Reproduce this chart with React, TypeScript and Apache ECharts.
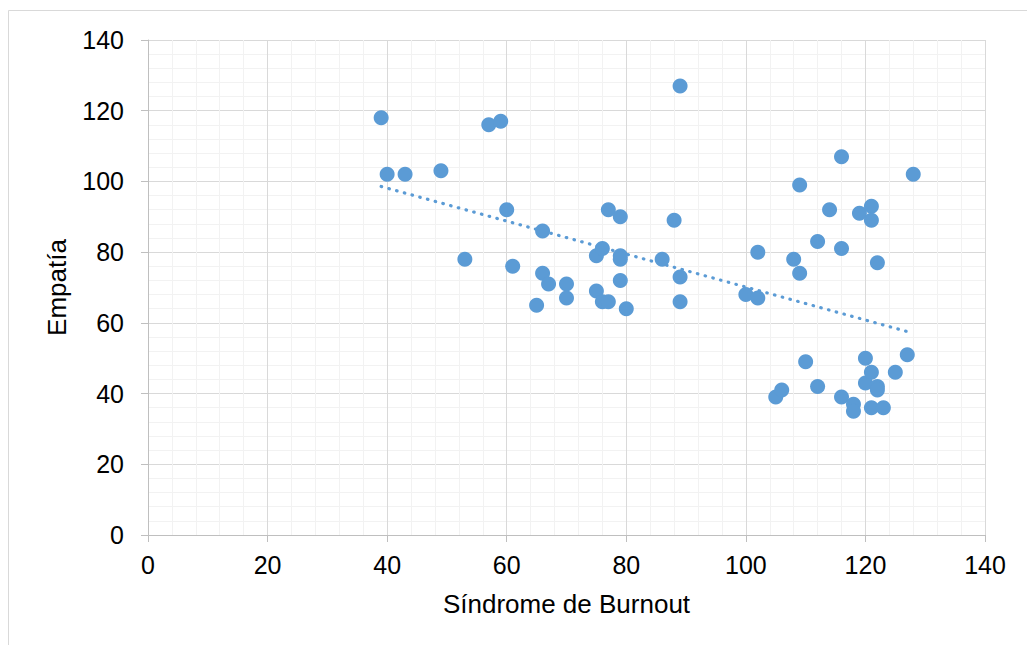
import React, { useEffect, useRef } from "react";
import * as echarts from "echarts";

const burnout: number[] = [39, 40, 43, 49, 53, 57, 59, 60, 61, 65, 66, 66, 67, 70, 70, 75, 76, 75, 76, 77, 77, 79, 79, 79, 79, 80, 86, 88, 89, 89, 89, 100, 102, 102, 105, 106, 108, 109, 109, 110, 112, 112, 114, 116, 116, 116, 118, 118, 119, 120, 120, 121, 121, 121, 121, 122, 122, 122, 123, 125, 127, 128];
const empatia: number[] = [118, 102, 102, 103, 78, 116, 117, 92, 76, 65, 86, 74, 71, 71, 67, 79, 81, 69, 66, 66, 92, 90, 79, 78, 72, 64, 78, 89, 127, 73, 66, 68, 80, 67, 39, 41, 78, 99, 74, 49, 83, 42, 92, 107, 81, 39, 37, 35, 91, 50, 43, 93, 89, 46, 36, 77, 42, 41, 36, 46, 51, 102];

const xTitle = "Síndrome de Burnout";
const yTitle = "Empatía";

function trend(xs: number[], ys: number[]): number[][] {
  const n = xs.length;
  let sx = 0, sy = 0, sxx = 0, sxy = 0;
  for (let i = 0; i < n; i++) {
    sx += xs[i]; sy += ys[i]; sxx += xs[i] * xs[i]; sxy += xs[i] * ys[i];
  }
  const b = (n * sxy - sx * sy) / (n * sxx - sx * sx);
  const a = (sy - b * sx) / n;
  const x0 = Math.min(...xs), x1 = Math.max(...xs);
  return [[x0, a + b * x0], [x1, a + b * x1]];
}

export default function App() {
  const ref = useRef<HTMLDivElement>(null);
  useEffect(() => {
    if (!ref.current) return;
    const chart = echarts.init(ref.current, null, { renderer: "svg" });
    const font = "Arial, 'Liberation Sans', sans-serif";
    const axisCommon = {
      type: "value",
      min: 0,
      max: 140,
      interval: 20,
      axisLine: { show: true, lineStyle: { color: "#bfbfbf", width: 1 } },
      axisTick: { show: true, length: 7, inside: false, lineStyle: { color: "#bfbfbf" } },
      minorTick: { show: false, splitNumber: 5 },
      splitLine: { show: true, lineStyle: { color: "#d9d9d9", width: 1 } },
      minorSplitLine: { show: true, lineStyle: { color: "#f2f2f2", width: 1 } },
      nameLocation: "middle",
      nameTextStyle: { fontSize: 26, color: "#000", fontFamily: font },
    };
    chart.setOption({
      animation: false,
      backgroundColor: "#ffffff",
      graphic: [
        {
          type: "rect",
          shape: { x: 8.5, y: 10.5, width: 1040, height: 660 },
          style: { fill: "none", stroke: "#d9d9d9", lineWidth: 1 },
          silent: true,
          z: -10,
        },
      ],
      grid: { left: 148, top: 40, right: 42, bottom: 110, containLabel: false },
      xAxis: {
        ...axisCommon,
        name: xTitle,
        nameGap: 56,
        axisLabel: { fontSize: 25, color: "#000", fontFamily: font, margin: 17 },
      },
      yAxis: {
        ...axisCommon,
        name: yTitle,
        nameGap: 78,
        axisLabel: { fontSize: 25, color: "#000", fontFamily: font, margin: 24 },
      },
      series: [
        {
          type: "scatter",
          data: burnout.map((x, i) => [x, empatia[i]]),
          symbol: "circle",
          symbolSize: 15,
          itemStyle: { color: "#5b9bd5", opacity: 1 },
          z: 3,
        },
        {
          type: "line",
          data: trend(burnout, empatia),
          showSymbol: false,
          symbol: "none",
          lineStyle: { color: "#5b9bd5", width: 3.2, type: [0.5, 7.5], cap: "round" },
          z: 2,
        },
      ],
    });
    return () => chart.dispose();
  }, []);
  return (
    <div
      ref={ref}
      style={{ position: "fixed", left: 0, top: 0, width: 1027, height: 645 }}
    />
  );
}
